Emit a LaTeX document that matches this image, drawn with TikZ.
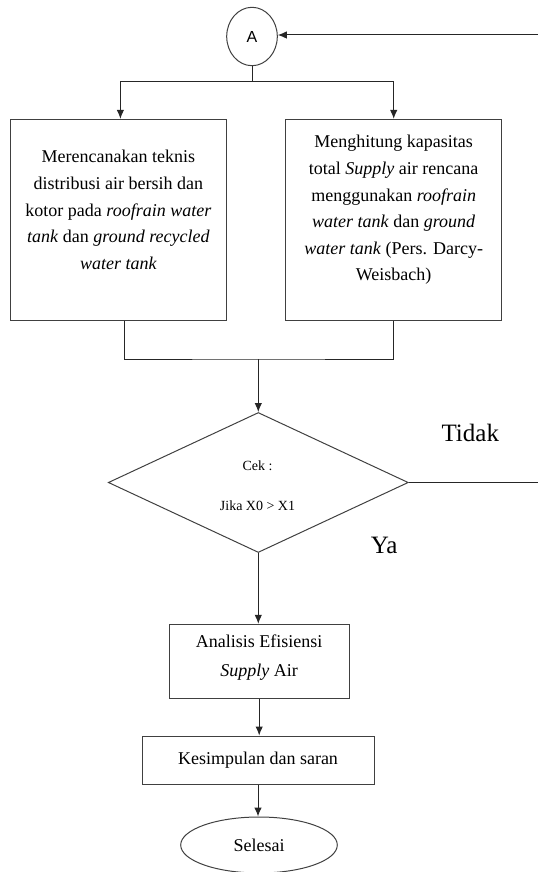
\documentclass[tikz,border=0pt]{standalone}
\usepackage{fontspec}
\setmainfont{Liberation Serif}
\newfontfamily\arialf{Liberation Sans}
\usetikzlibrary{arrows.meta,shapes.geometric}
\begin{document}
\begin{tikzpicture}[x=1pt,y=-1pt,
  ln/.style={draw=black!85, line width=1pt},
  arr/.style={ln, -{Latex[length=9pt,width=7.5pt]}},
  boxs/.style={draw=black!75, line width=1pt, rectangle, inner sep=0pt},
  txt/.style={align=center, font=\fontsize{18pt}{26.6pt}\selectfont, inner sep=0pt},
  lbl/.style={font=\fontsize{25pt}{30pt}\selectfont, anchor=base, inner sep=0pt},
]
\useasboundingbox (0,0) rectangle (538,872);

% connector A
\node[ellipse, draw=black!75, line width=1pt, minimum width=50.6pt, minimum height=58.4pt, inner sep=0pt,
      font=\arialf\fontsize{16pt}{19pt}\selectfont] (A) at (252,36.5) {A};

% two process boxes
\node[boxs, minimum width=216.7pt, minimum height=200.7pt] (L) at (118.4,219.7) {};
\node[txt] (Lt) at (118.4,210) {Merencanakan teknis\\distribusi air bersih dan\\kotor pada \textit{roofrain water}\\\textit{tank} dan \textit{ground recycled}\\\textit{water tank}};

\node[boxs, minimum width=216pt, minimum height=200.7pt] (R) at (393.7,219.7) {};
\node[txt] (Rt) at (393.7,210) {Menghitung kapasitas\\total \textit{Supply} air rencana\\menggunakan \textit{roofrain}\\\textit{water tank} dan \textit{ground}\\\textit{water tank} (Pers. Darcy-\\Weisbach)};

% decision
\node[diamond, draw=black!75, line width=1pt, minimum width=300pt, minimum height=140pt, inner sep=0pt] (D) at (258.3,482.5) {};
\node[align=center, font=\fontsize{14pt}{39.7pt}\selectfont, inner sep=0pt] (Dt) at (257.5,486) {Cek :\\Jika X0 > X1};

\node[lbl] (tidak) at (470.3,441.7) {Tidak};
\node[lbl] (ya) at (384.2,553.3) {Ya};

% lower boxes
\node[boxs, minimum width=180.3pt, minimum height=74pt] (An) at (259.2,661.3) {};
\node[txt, font=\fontsize{18pt}{28.3pt}\selectfont] (Ant) at (259.2,657.5) {Analisis Efisiensi\\\textit{Supply} Air};

\node[boxs, minimum width=232pt, minimum height=48pt, font=\fontsize{18pt}{22pt}\selectfont] (K) at (258,760) {Kesimpulan dan saran};

\node[ellipse, draw=black!75, line width=1pt, minimum width=156.6pt, minimum height=56pt, inner sep=0pt,
      font=\fontsize{18pt}{22pt}\selectfont] (S) at (259,845) {Selesai};

% connectors
\coordinate (tt) at (538,35);
\draw[arr] (tt) -- (tt -| A.east);
\coordinate (s) at (252,81.7);
\draw[ln] (A.south) -- (s);
\draw[arr] (s) -| ([xshift=2pt]L.north);
\draw[arr] (s) -| (R.north);

\coordinate (j) at (258.3,359);
\draw[ln] ([xshift=6pt]L.south) |- (j) -| (R.south);
\draw[arr] (j) -- (D.north);

\coordinate (tr) at (538,482.5);
\draw[ln] (D.east) -- (tr);

\draw[arr] (D.south) -- (D.south |- An.north);
\draw[arr] (An.south) -- (An.south |- K.north);
\draw[arr] (K.south) -- (K.south |- S.north);
\end{tikzpicture}
\end{document}
